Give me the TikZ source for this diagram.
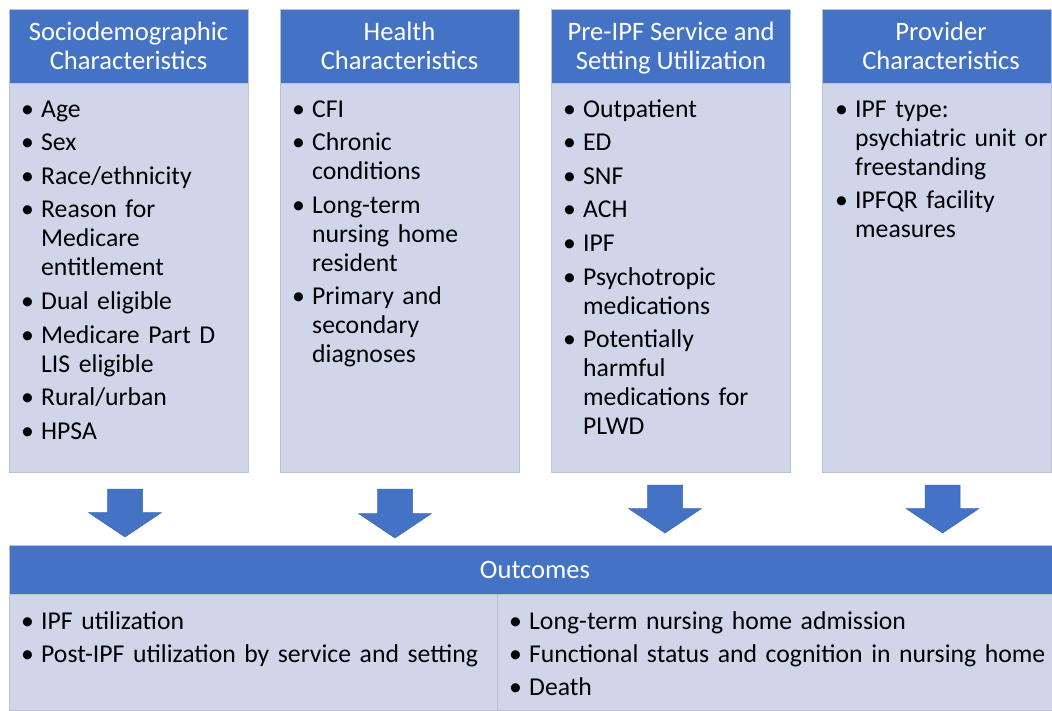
\documentclass[tikz,border=0pt]{standalone}
\usepackage{fontspec}
\setmainfont{Carlito}
\usetikzlibrary{calc}

\definecolor{hdrblue}{HTML}{4472C4}
\definecolor{bodyblue}{HTML}{D0D6EA}
\definecolor{edgegray}{HTML}{BCC1CB}
\definecolor{arrowedge}{HTML}{3B65B2}

% one bullet item with a hanging indent, closed by its own \par
\newcommand\bitem[1]{\hangindent=20pt\hangafter=1\noindent\makebox[20pt][l]{\textbullet}#1\par}

\tikzset{
  hdrbox/.style={rectangle, fill=hdrblue, draw=edgegray, line width=0.6pt, inner sep=0pt},
  hdrtext/.style={inner sep=0pt, text=white, align=center,
    font=\fontsize{26.6}{29}\selectfont},
  bodybox/.style={rectangle, fill=bodyblue, draw=edgegray, line width=0.6pt, inner sep=0pt},
  listtext/.style={anchor=base west, inner sep=0pt, text width=560pt, align=left,
    font=\fontsize{25.7}{29}\selectfont\setlength\parskip{4.6pt}\setlength\parindent{0pt}},
  outtext/.style={listtext,
    font=\fontsize{25.7}{33}\selectfont\setlength\parskip{0pt}\setlength\parindent{0pt}},
  flow/.style={fill=hdrblue, draw=arrowedge, line width=0.5pt, line join=miter}
}

% downward block arrow: centre x, top y, tip y
\newcommand\flowarrow[3]{%
  \filldraw[flow] (#1-17.5,#2) -- (#1+17.5,#2) -- (#1+17.5,#3-24.5) -- (#1+36.5,#3-24.5)
    -- (#1,#3) -- (#1-36.5,#3-24.5) -- (#1-17.5,#3-24.5) -- cycle;}

\begin{document}
\begin{tikzpicture}[x=1pt,y=-1pt]
\useasboundingbox (0,0) rectangle (1052,710);

% column headers
\node[hdrbox, minimum width=239pt, minimum height=74pt] (h1) at (128.5,46) {};
\node[hdrbox, minimum width=239pt, minimum height=74pt] (h2) at (399.5,46) {};
\node[hdrbox, minimum width=239pt, minimum height=74pt] (h3) at (671,46) {};
\node[hdrbox, minimum width=229pt, minimum height=74pt] (h4) at (937,46) {};

\node[hdrtext] (ht1) at (128.5,49) {\strut Sociodemographic\\Characteristics\strut};
\node[hdrtext] (ht2) at (399.5,49) {\strut Health\\Characteristics\strut};
\node[hdrtext] (ht3) at (671,49) {\strut Pre-IPF Service and\\Setting Utilization\strut};
\node[hdrtext] (ht4) at (941,49) {\strut Provider\\Characteristics\strut};

% column bodies
\node[bodybox, minimum width=239pt, minimum height=389pt] (b1) at (128.5,277.5) {};
\node[bodybox, minimum width=239pt, minimum height=389pt] (b2) at (399.5,277.5) {};
\node[bodybox, minimum width=239pt, minimum height=389pt] (b3) at (671,277.5) {};
\node[bodybox, minimum width=229pt, minimum height=389pt] (b4) at (937,277.5) {};

% column lists
\node[listtext] (l1) at (21,117) {%
  \bitem{Age}
  \bitem{Sex}
  \bitem{Race/ethnicity}
  \bitem{Reason for\newline Medicare\newline entitlement}
  \bitem{Dual eligible}
  \bitem{Medicare Part D\newline LIS eligible}
  \bitem{Rural/urban}
  \bitem{HPSA}};
\node[listtext] (l2) at (292,117) {%
  \bitem{CFI}
  \bitem{Chronic\newline conditions}
  \bitem{Long-term\newline nursing home\newline resident}
  \bitem{Primary and\newline secondary\newline diagnoses}};
\node[listtext] (l3) at (563,117) {%
  \bitem{Outpatient}
  \bitem{ED}
  \bitem{SNF}
  \bitem{ACH}
  \bitem{IPF}
  \bitem{Psychotropic\newline medications}
  \bitem{Potentially\newline harmful\newline medications for\newline PLWD}};
\node[listtext] (l4) at (835,117) {%
  \bitem{IPF type:\newline psychiatric unit or\newline freestanding}
  \bitem{IPFQR facility\newline measures}};

% arrows into the outcomes bar
\flowarrow{125}{489}{537}
\flowarrow{395}{489}{538}
\flowarrow{665}{485}{533}
\flowarrow{942.5}{485}{533}

% outcomes bar
\node[hdrbox, minimum width=1043pt, minimum height=49pt] (oh) at (530.5,569.5) {};
\node[hdrtext] (oht) at (535,570) {Outcomes};
\node[bodybox, minimum width=488pt, minimum height=116pt] (ol) at (253,652) {};
\node[bodybox, minimum width=555pt, minimum height=116pt] (or) at (774.5,652) {};

\node[outtext] (o1) at (21,629) {%
  \bitem{IPF utilization}
  \bitem{Post-IPF utilization by service and setting}};
\node[outtext] (o2) at (509,629) {%
  \bitem{Long-term nursing home admission}
  \bitem{Functional status and cognition in nursing home}
  \bitem{Death}};
\end{tikzpicture}
\end{document}
